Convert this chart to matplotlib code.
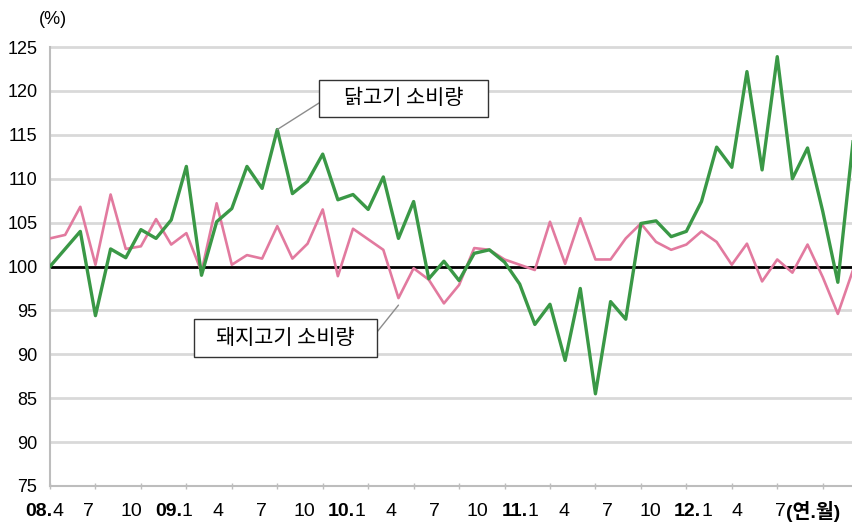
import matplotlib
matplotlib.use('Agg')
import matplotlib.pyplot as plt
import matplotlib.transforms as mtransforms
from matplotlib.patches import Rectangle, ConnectionPatch

plt.rcParams['font.family'] = ['Liberation Sans', 'Noto Sans CJK KR', 'DejaVu Sans']

# ---------------- data ----------------
months = ['08.4', '08.5', '08.6', '08.7', '08.8', '08.9', '08.10', '08.11', '08.12',
          '09.1', '09.2', '09.3', '09.4', '09.5', '09.6', '09.7', '09.8', '09.9',
          '09.10', '09.11', '09.12', '10.1', '10.2', '10.3', '10.4', '10.5', '10.6',
          '10.7', '10.8', '10.9', '10.10', '10.11', '10.12', '11.1', '11.2', '11.3',
          '11.4', '11.5', '11.6', '11.7', '11.8', '11.9', '11.10', '11.11', '11.12',
          '12.1', '12.2', '12.3', '12.4', '12.5', '12.6', '12.7', '12.8', '12.9']

chicken = [100.0, 102.0, 104.0, 94.4, 102.0, 101.0, 104.2, 103.2, 105.3,
           111.4, 99.0, 105.1, 106.6, 111.4, 108.9, 115.6, 108.3, 109.7,
           112.8, 107.6, 108.2, 106.5, 110.2, 103.2, 107.4, 98.6, 100.6,
           98.4, 101.5, 101.9, 100.5, 98.0, 93.4, 95.7, 89.3, 97.5,
           85.5, 96.0, 94.0, 104.9, 105.2, 103.4, 104.0, 107.4, 113.6,
           111.3, 122.2, 111.0, 123.9, 110.0, 113.5, 106.3, 98.2, 114.2]

pork = [103.2, 103.6, 106.8, 100.2, 108.2, 102.0, 102.3, 105.4, 102.5,
        103.8, 99.4, 107.2, 100.2, 101.3, 100.9, 104.6, 100.9, 102.6,
        106.5, 98.9, 104.3, 103.1, 101.9, 96.4, 99.8, 98.5, 95.8,
        97.9, 102.1, 101.9, 100.8, 100.2, 99.6, 105.1, 100.3, 105.5,
        100.8, 100.8, 103.2, 104.9, 102.8, 101.9, 102.5, 104.0, 102.8,
        100.2, 102.6, 98.3, 100.8, 99.3, 102.5, 98.8, 94.6, 99.6]

y_ticks = [75, 80, 85, 90, 95, 100, 105, 110, 115, 120, 125]
y_tick_labels = ['75', '90', '85', '90', '95', '100', '105', '110', '115', '120', '125']
x_tick_labels = ['08.4', '7', '10', '09.1', '4', '7', '10', '10.1', '4', '7', '10',
                 '11.1', '4', '7', '10', '12.1', '4', '7']
x_unit = '(연.월)'
y_unit = '(%)'
chicken_name = '닭고기 소비량'
pork_name = '돼지고기 소비량'

# ---------------- style ----------------
W, H = 853, 523
GREEN = '#3a9846'
PINK = '#e27a9f'
GRID = '#d9d9d9'
AXIS = '#bdbdbd'

fig = plt.figure(figsize=(W / 100, H / 100), dpi=100)
ax = fig.add_axes([50 / W, 37 / H, 803 / W, 439 / H])

x = list(range(len(months)))

for yt in y_ticks:
    if yt not in (75, 100):
        ax.axhline(yt, color=GRID, lw=2.0, zorder=1, clip_on=False)
ax.axhline(100, color='black', lw=2.0, zorder=2)

ax.plot(x, pork, color=PINK, lw=1.9, zorder=3)
ax.plot(x, chicken, color=GREEN, lw=2.4, zorder=4)

ax.set_xlim(0, len(months) - 1)
ax.set_ylim(75, 125)

for s in ('top', 'right'):
    ax.spines[s].set_visible(False)
ax.spines['left'].set_color(AXIS)
ax.spines['left'].set_linewidth(1.5)
ax.spines['bottom'].set_color(AXIS)
ax.spines['bottom'].set_linewidth(1.5)

ax.set_yticks(y_ticks)
ax.set_yticklabels(y_tick_labels, fontsize=13)
ax.tick_params(axis='y', length=0, pad=9)

tick_idx = list(range(0, len(months), 3))[:len(x_tick_labels)]
ax.set_xticks(tick_idx)
ax.tick_params(axis='x', direction='inout', length=5, width=1, color=AXIS,
               labelbottom=False)

# hand-placed category labels (slightly compressed relative to ticks)
LABEL_SCALE = 0.952
LABEL_SHIFT = -0.33
trans = ax.get_xaxis_transform()
label_y = -26 / 439
for k, (i, lab) in enumerate(zip(tick_idx, x_tick_labels)):
    cx = LABEL_SCALE * i + LABEL_SHIFT
    if '.' in lab:
        yr, mo = lab.split('.')
        t = mtransforms.offset_copy(trans, fig=fig, x=7, y=0, units='dots')
        ax.text(cx, label_y, yr + '.', transform=t, ha='right', va='center',
                fontsize=14, fontweight='bold', clip_on=False)
        ax.text(cx, label_y, mo, transform=t, ha='left', va='center',
                fontsize=14, clip_on=False)
    elif k == len(x_tick_labels) - 1:
        t = mtransforms.offset_copy(trans, fig=fig, x=5, y=0, units='dots')
        ax.text(cx, label_y, lab, transform=t, ha='right', va='center',
                fontsize=14, clip_on=False)
        ax.text(cx, label_y, x_unit, transform=t, ha='left', va='center',
                fontsize=14, fontweight='bold', clip_on=False)
    else:
        ax.text(cx, label_y, lab, transform=trans, ha='center', va='center',
                fontsize=14, clip_on=False)

fig.text(53 / W, 1 - 20 / H, y_unit, ha='center', va='center', fontsize=13)

# annotation boxes
def box(x0, y0, x1, y1, text, anchor_xy, box_pt):
    rect = Rectangle((x0 / W, 1 - y1 / H), (x1 - x0) / W, (y1 - y0) / H,
                     transform=fig.transFigure, facecolor='white',
                     edgecolor='#333333', lw=1.0, zorder=10)
    fig.add_artist(rect)
    fig.text((x0 + x1) / 2 / W, 1 - (y0 + y1) / 2 / H, text, ha='center',
             va='center', fontsize=15, zorder=11,
             family=['Noto Sans CJK KR', 'DejaVu Sans'])
    con = ConnectionPatch(xyA=anchor_xy, coordsA=ax.transData,
                          xyB=(box_pt[0] / W, 1 - box_pt[1] / H),
                          coordsB=fig.transFigure, color='#8c8c8c', lw=1.0,
                          zorder=9)
    fig.add_artist(con)

box(319, 80, 488, 117, chicken_name, (15, chicken[15]), (319, 103))
box(194, 319, 377, 357, pork_name, (23, pork[23] - 0.8), (377, 332))

fig.savefig('out.png', dpi=100)
